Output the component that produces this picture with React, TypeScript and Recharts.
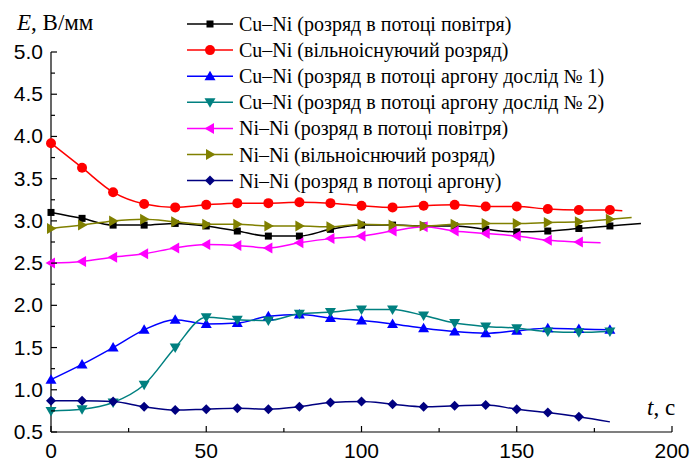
import { Customized, Line, LineChart, XAxis, YAxis } from "recharts"

// time, s
const times = [0, 10, 20, 30, 40, 50, 60, 70, 80, 90, 100, 110, 120, 130, 140, 150, 160, 170, 180]

// E, V/mm
const cuNiAirFlow = [3.1, 3.03, 2.95, 2.95, 2.97, 2.94, 2.88, 2.82, 2.82, 2.9, 2.95, 2.95, 2.94, 2.94, 2.9, 2.87, 2.88, 2.91, 2.94]
const cuNiAirFlowEnd: [number, number] = [190, 2.97]
const cuNiFree = [3.92, 3.63, 3.34, 3.2, 3.16, 3.19, 3.21, 3.21, 3.22, 3.21, 3.18, 3.16, 3.18, 3.19, 3.17, 3.17, 3.14, 3.13, 3.13]
const cuNiFreeEnd: [number, number] = [184, 3.12]
const cuNiArgon1 = [1.12, 1.3, 1.5, 1.71, 1.83, 1.78, 1.79, 1.87, 1.89, 1.85, 1.82, 1.78, 1.73, 1.69, 1.67, 1.7, 1.73, 1.72, 1.71]
const cuNiArgon2 = [0.75, 0.77, 0.85, 1.06, 1.5, 1.86, 1.83, 1.82, 1.9, 1.92, 1.95, 1.95, 1.88, 1.79, 1.75, 1.73, 1.69, 1.68, 1.69]
const niNiAirFlow = [2.5, 2.52, 2.57, 2.61, 2.68, 2.72, 2.71, 2.68, 2.74, 2.79, 2.82, 2.88, 2.93, 2.88, 2.85, 2.82, 2.77, 2.75]
const niNiAirFlowEnd: [number, number] = [177, 2.74]
const niNiFree = [2.91, 2.95, 3.0, 3.02, 2.99, 2.96, 2.96, 2.94, 2.94, 2.93, 2.96, 2.95, 2.94, 2.96, 2.97, 2.97, 2.98, 2.99, 3.02]
const niNiFreeEnd: [number, number] = [187, 3.04]
const niNiArgon = [0.87, 0.87, 0.86, 0.8, 0.76, 0.77, 0.78, 0.77, 0.8, 0.85, 0.86, 0.83, 0.8, 0.81, 0.82, 0.77, 0.73, 0.68]
const niNiArgonEnd: [number, number] = [180, 0.62]

const xTicks = [0, 25, 50, 75, 100, 125, 150, 175, 200]
const yTicks = [0.5, 0.75, 1, 1.25, 1.5, 1.75, 2, 2.25, 2.5, 2.75, 3, 3.25, 3.5, 3.75, 4, 4.25, 4.5, 4.75, 5]

const names = [
  "Cu–Ni (розряд в потоці повітря)",
  "Cu–Ni (вільноіснуючий розряд)",
  "Cu–Ni (розряд в потоці аргону дослід № 1)",
  "Cu–Ni (розряд в потоці аргону дослід № 2)",
  "Ni–Ni (розряд в потоці повітря)",
  "Ni–Ni (вільноіснючий розряд)",
  "Ni–Ni (розряд в потоці аргону)",
]

type Shape = "square" | "circle" | "up" | "down" | "left" | "right" | "diamond"

const series: { name: string; color: string; shape: Shape; values: number[]; end?: [number, number] }[] = [
  { name: names[0], color: "#000000", shape: "square", values: cuNiAirFlow, end: cuNiAirFlowEnd },
  { name: names[1], color: "#ff0000", shape: "circle", values: cuNiFree, end: cuNiFreeEnd },
  { name: names[2], color: "#0000ff", shape: "up", values: cuNiArgon1 },
  { name: names[3], color: "#008080", shape: "down", values: cuNiArgon2 },
  { name: names[4], color: "#ff00ff", shape: "left", values: niNiAirFlow, end: niNiAirFlowEnd },
  { name: names[5], color: "#808000", shape: "right", values: niNiFree, end: niNiFreeEnd },
  { name: names[6], color: "#000080", shape: "diamond", values: niNiArgon, end: niNiArgonEnd },
]

const toPoints = (values: number[], end?: [number, number]) => {
  const pts = values.map((e, i) => ({ t: times[i], e }))
  if (end) pts.push({ t: end[0], e: end[1] })
  return pts
}

const SANS = "Liberation Sans"
const SERIF = "Liberation Serif"

function Marker({ shape, cx, cy, color }: { shape: Shape; cx: number; cy: number; color: string }) {
  switch (shape) {
    case "square":
      return <rect x={cx - 3.5} y={cy - 3.5} width={7} height={7} fill={color} />
    case "circle":
      return <circle cx={cx} cy={cy} r={5} fill={color} />
    case "up":
      return <polygon points={`${cx},${cy - 5.5} ${cx + 5.5},${cy + 4} ${cx - 5.5},${cy + 4}`} fill={color} />
    case "down":
      return <polygon points={`${cx},${cy + 5.5} ${cx + 5.5},${cy - 4} ${cx - 5.5},${cy - 4}`} fill={color} />
    case "left":
      return <polygon points={`${cx - 5.5},${cy} ${cx + 4},${cy - 5.5} ${cx + 4},${cy + 5.5}`} fill={color} />
    case "right":
      return <polygon points={`${cx + 5.5},${cy} ${cx - 4},${cy - 5.5} ${cx - 4},${cy + 5.5}`} fill={color} />
    default:
      return <polygon points={`${cx},${cy - 5} ${cx + 5},${cy} ${cx},${cy + 5} ${cx - 5},${cy}`} fill={color} />
  }
}

const isMajor = (v: number, step: number) => Math.abs(v / step - Math.round(v / step)) < 1e-6

// ticks point inward, labels only on the major ones
function XTick({ x, y, payload }: any) {
  const v = payload.value
  const major = isMajor(v, 50)
  return (
    <g>
      <line x1={x} x2={x} y1={y} y2={y - (major ? 6 : 4)} stroke="#000" strokeWidth={1.2} />
      {major && (
        <text x={x} y={y + 26} textAnchor="middle" fontFamily={SANS} fontSize={21} fill="#000">
          {v}
        </text>
      )}
    </g>
  )
}

function YTick({ x, y, payload }: any) {
  const v = payload.value
  const major = isMajor(v, 0.5)
  return (
    <g>
      <line x1={x} x2={x + (major ? 6 : 4)} y1={y} y2={y} stroke="#000" strokeWidth={1.2} />
      {major && (
        <text x={x - 8} y={y + 7} textAnchor="end" fontFamily={SANS} fontSize={21} fill="#000">
          {v.toFixed(1)}
        </text>
      )}
    </g>
  )
}

function Decorations() {
  return (
    <g>
      <text x={17} y={30} fontFamily={SERIF} fontSize={23} fill="#000">
        <tspan fontStyle="italic">E</tspan>, В/мм
      </text>
      <text x={647} y={415} fontFamily={SERIF} fontSize={23} fill="#000">
        <tspan fontStyle="italic">t</tspan>, с
      </text>
      {series.map((s, i) => {
        const cy = 24 + i * 26.1
        return (
          <g key={s.name}>
            <line x1={187} x2={233} y1={cy} y2={cy} stroke={s.color} strokeWidth={1.5} />
            <Marker shape={s.shape} cx={210} cy={cy} color={s.color} />
            <text x={239} y={cy + 7} fontFamily={SERIF} fontSize={20} fill="#000">
              {s.name}
            </text>
          </g>
        )
      })}
    </g>
  )
}

export default function App() {
  return (
    <div style={{ position: "absolute", left: 0, top: 0, background: "#fff" }}>
      <LineChart width={691} height={464} margin={{ top: 52, right: 19, bottom: 0, left: 0 }}>
        <XAxis
          dataKey="t"
          type="number"
          domain={[0, 200]}
          ticks={xTicks}
          interval={0}
          height={32}
          tickSize={0}
          tickMargin={0}
          tick={<XTick />}
          axisLine={{ stroke: "#000", strokeWidth: 1.2 }}
        />
        <YAxis
          type="number"
          domain={[0.5, 5]}
          ticks={yTicks}
          interval={0}
          width={51}
          tickSize={0}
          tickMargin={0}
          tick={<YTick />}
          axisLine={{ stroke: "#000", strokeWidth: 1.2 }}
        />
        {series.map((s) => (
          <Line
            key={s.name}
            data={toPoints(s.values, s.end)}
            dataKey="e"
            name={s.name}
            type="monotone"
            stroke={s.color}
            strokeWidth={1.5}
            isAnimationActive={false}
            activeDot={false}
            dot={(p: any) => (
              <g key={`${s.shape}-${p.index}`}>
                {p.index < s.values.length && <Marker shape={s.shape} cx={p.cx} cy={p.cy} color={s.color} />}
              </g>
            )}
          />
        ))}
        <Customized component={Decorations} />
      </LineChart>
    </div>
  )
}
